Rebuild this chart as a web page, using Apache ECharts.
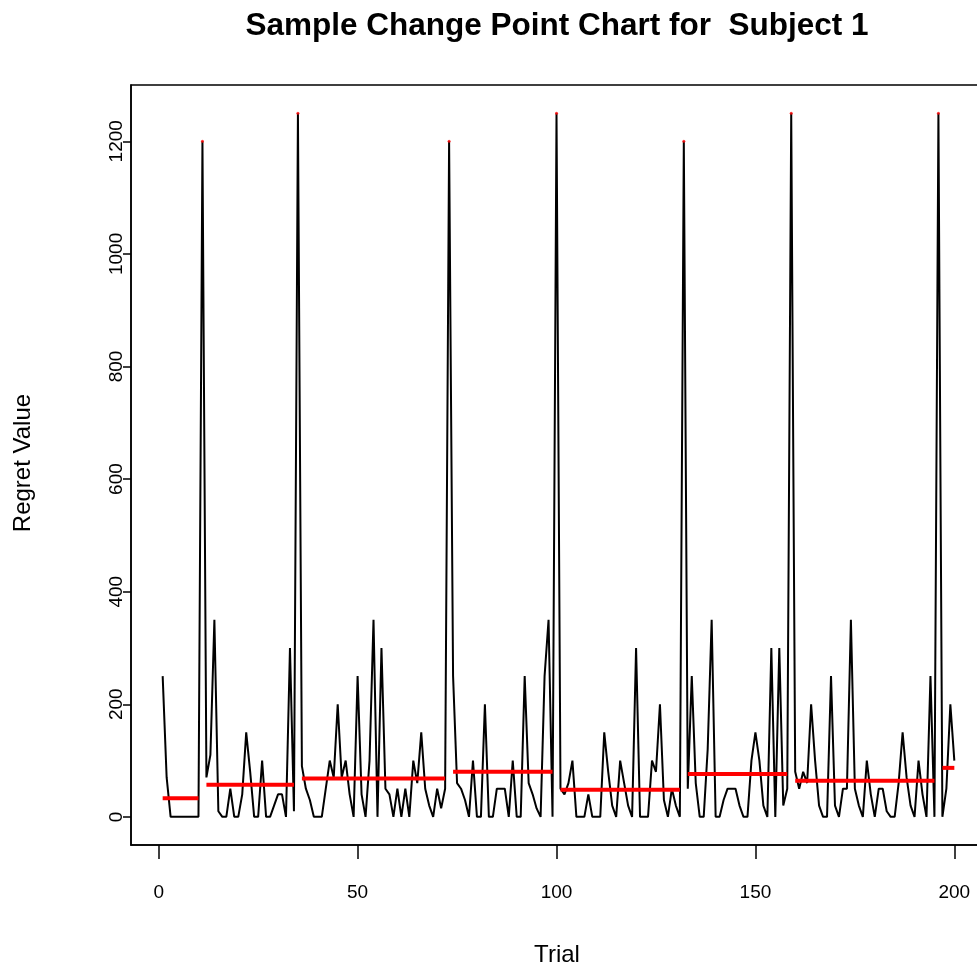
<!DOCTYPE html>
<html>
<head>
<meta charset="utf-8">
<script src="https://cdn.jsdelivr.net/npm/echarts@6/dist/echarts.min.js"></script>
<style>
  html, body { margin: 0; padding: 0; background: #ffffff; overflow: hidden; }
  #chart { width: 992px; height: 971px; }
</style>
</head>
<body>
<div id="chart"></div>
<script>
// Regret value recorded on each trial (trial 1 .. 200)
const regret = [
  250, 70, 0, 0, 0, 0, 0, 0, 0, 0,
  1200, 70, 110, 350, 10, 0, 0, 50, 0, 0,
  40, 150, 80, 0, 0, 100, 0, 0, 20, 40,
  40, 0, 300, 10, 1250, 90, 50, 30, 0, 0,
  0, 50, 100, 70, 200, 70, 100, 40, 0, 250,
  40, 0, 100, 350, 0, 300, 50, 40, 0, 50,
  0, 50, 0, 100, 60, 150, 50, 20, 0, 50,
  15, 50, 1200, 250, 60, 50, 30, 0, 100, 0,
  0, 200, 0, 0, 50, 50, 50, 0, 100, 0,
  0, 250, 60, 40, 15, 0, 250, 350, 0, 1250,
  50, 40, 60, 100, 0, 0, 0, 40, 0, 0,
  0, 150, 80, 20, 0, 100, 60, 20, 0, 300,
  0, 0, 0, 100, 80, 200, 30, 0, 50, 20,
  0, 1200, 50, 250, 60, 0, 0, 120, 350, 0,
  0, 30, 50, 50, 50, 20, 0, 0, 100, 150,
  100, 20, 0, 300, 0, 300, 20, 50, 1250, 80,
  50, 80, 60, 200, 100, 20, 0, 0, 250, 20,
  0, 50, 50, 350, 50, 20, 0, 100, 40, 0,
  50, 50, 10, 0, 0, 60, 150, 70, 20, 0,
  100, 40, 0, 250, 0, 1250, 0, 50, 200, 100
];

// Change point segments: first trial, last trial and segment mean
const segStart = [1, 12, 36, 74, 101, 133, 160, 197];
const segEnd   = [10, 34, 72, 99, 131, 158, 195, 200];
const segMean  = [33, 57, 68, 80, 48, 76, 64, 87];

// Single-trial segments (the spikes)
const spikeTrials = [11, 35, 73, 100, 132, 159, 196];

// Axis ticks
const xTicks = [0, 50, 100, 150, 200];
const yTicks = [0, 200, 400, 600, 800, 1000, 1200];

const FONT = 'Liberation Sans, Arial, sans-serif';

const linePoints = regret.map((v, i) => [i + 1, v]);

const segmentSeries = segMean.map((m, k) => ({
  type: 'line',
  data: [[segStart[k], m], [segEnd[k], m]],
  symbol: 'none',
  silent: true,
  z: 4,
  lineStyle: { color: '#ff0000', width: 4, cap: 'butt' }
}));

const axisStroke = { color: '#000000', width: 1.5 };

const chart = echarts.init(document.getElementById('chart'), null, { renderer: 'canvas' });

chart.setOption({
  animation: false,
  backgroundColor: '#ffffff',
  grid: {
    left: 131, top: 85, width: 855, height: 760,
    show: true, borderColor: '#000000', borderWidth: 1.5,
    backgroundColor: 'transparent', containLabel: false
  },
  xAxis: {
    type: 'value',
    min: -6.96, max: 207.96,
    splitLine: { show: false },
    axisLine: { show: true, onZero: false, lineStyle: axisStroke },
    axisTick: { show: true, inside: false, length: 14, lineStyle: axisStroke, customValues: xTicks },
    axisLabel: {
      customValues: xTicks, margin: 38, color: '#000',
      fontFamily: FONT, fontSize: 19,
      formatter: v => String(v)
    }
  },
  yAxis: {
    type: 'value',
    min: -50, max: 1300,
    splitLine: { show: false },
    axisLine: { show: true, onZero: false, lineStyle: axisStroke },
    axisTick: { show: true, inside: false, length: 8, lineStyle: axisStroke, customValues: yTicks },
    axisLabel: {
      customValues: yTicks, rotate: 90, margin: 5, color: '#000',
      fontFamily: FONT, fontSize: 19,
      formatter: v => String(v)
    }
  },
  graphic: [
    {
      type: 'text', x: 557, y: 26,
      style: {
        text: 'Sample Change Point Chart for  Subject 1',
        fill: '#000', font: 'bold 31.5px ' + FONT,
        textAlign: 'center', textVerticalAlign: 'middle'
      }
    },
    {
      type: 'text', x: 557, y: 955,
      style: {
        text: 'Trial', fill: '#000', font: '24px ' + FONT,
        textAlign: 'center', textVerticalAlign: 'middle'
      }
    },
    {
      type: 'text', x: 23, y: 463, rotation: Math.PI / 2,
      style: {
        text: 'Regret Value', fill: '#000', font: '24px ' + FONT,
        textAlign: 'center', textVerticalAlign: 'middle'
      }
    }
  ],
  series: [
    {
      type: 'line',
      data: linePoints,
      symbol: 'none',
      z: 3,
      lineStyle: { color: '#000000', width: 2 }
    },
    ...segmentSeries,
    {
      type: 'scatter',
      data: spikeTrials.map(t => [t, regret[t - 1]]),
      symbol: 'circle',
      symbolSize: 3,
      z: 5,
      itemStyle: { color: '#ff0000' }
    }
  ]
});
</script>
</body>
</html>
